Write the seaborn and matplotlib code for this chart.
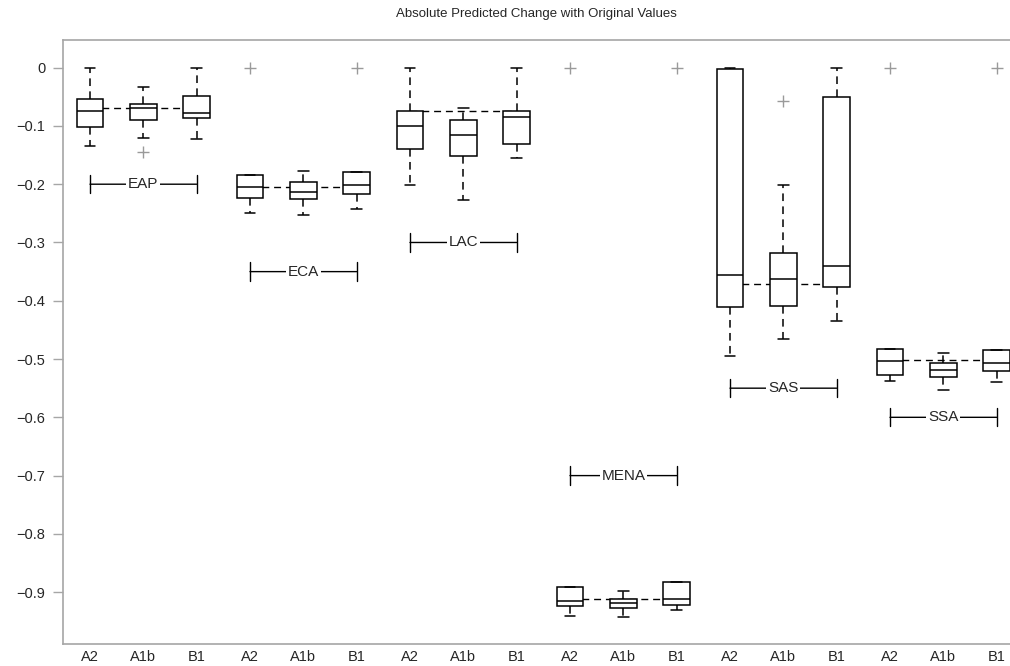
import matplotlib
matplotlib.use("Agg")
import matplotlib.pyplot as plt
import pandas as pd
import seaborn as sns

# --- Data ---
regions = ["EAP", "ECA", "LAC", "MENA", "SAS", "SSA"]
scenarios = ["A2", "A1b", "B1"]

# one value per box, order: region by region, A2 / A1b / B1
whisker_hi = [0.0, -0.033, 0.0,
              -0.184, -0.177, -0.179,
              0.0, -0.069, 0.0,
              -0.891, -0.898, -0.882,
              0.0, -0.202, 0.0,
              -0.483, -0.489, -0.485]
upper_q = [-0.054, -0.063, -0.048,
           -0.184, -0.197, -0.179,
           -0.075, -0.089, -0.074,
           -0.891, -0.911, -0.882,
           -0.003, -0.318, -0.050,
           -0.483, -0.506, -0.485]
median = [-0.074, -0.070, -0.077,
          -0.205, -0.213, -0.202,
          -0.100, -0.115, -0.084,
          -0.915, -0.919, -0.911,
          -0.356, -0.362, -0.340,
          -0.503, -0.519, -0.506]
lower_q = [-0.102, -0.090, -0.086,
           -0.223, -0.225, -0.217,
           -0.140, -0.151, -0.131,
           -0.924, -0.928, -0.922,
           -0.411, -0.409, -0.376,
           -0.527, -0.530, -0.520]
whisker_lo = [-0.134, -0.121, -0.123,
              -0.250, -0.252, -0.243,
              -0.202, -0.227, -0.155,
              -0.941, -0.942, -0.930,
              -0.494, -0.466, -0.434,
              -0.537, -0.553, -0.540]

# outliers: box index (0-based) and value
outlier_box = [1, 3, 5, 9, 11, 13, 15, 17]
outlier_val = [-0.144, 0.0, 0.0, 0.0, 0.0, -0.057, 0.0, 0.0]

# dashed level line per region and the y of the region bracket label
group_line = [-0.070, -0.204, -0.075, -0.911, -0.372, -0.502]
label_y = [-0.20, -0.35, -0.30, -0.70, -0.55, -0.60]

# --- Style ---
sns.set_theme(style="white")
plt.rcParams["font.family"] = ["Liberation Sans", "DejaVu Sans"]

spine_grey = "#a6a6a6"
dash = (0, (5, 3.5))

fig = plt.figure(figsize=(10.10, 6.66), dpi=100)
ax = fig.add_axes([0.0627, 0.033, 0.9373, 0.907])

n = len(median)
positions = list(range(1, n + 1))
stats = []
for i in range(n):
    stats.append({
        "whislo": whisker_lo[i], "q1": lower_q[i], "med": median[i],
        "q3": upper_q[i], "whishi": whisker_hi[i], "fliers": [],
    })

# dashed line joining the boxes of each region (sits behind the boxes)
line_rows = []
for g, region in enumerate(regions):
    for k in (0, 2):
        line_rows.append({"region": region, "x": g * 3 + 1 + k, "y": group_line[g]})
line_df = pd.DataFrame(line_rows)
for region, sub in line_df.groupby("region", sort=False):
    sns.lineplot(data=sub, x="x", y="y", ax=ax, color="black", lw=1.0,
                 linestyle=dash, zorder=1, legend=False)

ax.bxp(stats, positions=positions, widths=0.5, patch_artist=True,
       showfliers=False,
       boxprops=dict(facecolor="white", edgecolor="black", linewidth=1.1),
       medianprops=dict(color="black", linewidth=1.1),
       whiskerprops=dict(color="black", linewidth=1.1, linestyle=dash),
       capprops=dict(color="black", linewidth=1.1),
       capwidths=0.2, zorder=3)

# outliers
out_df = pd.DataFrame({"x": [b + 1 for b in outlier_box], "y": outlier_val})
sns.scatterplot(data=out_df, x="x", y="y", ax=ax, marker="+", s=70,
                color="#9a9a9a", linewidth=1.0, zorder=4, legend=False)

# region brackets
for g, region in enumerate(regions):
    x0 = g * 3 + 1
    x1 = g * 3 + 3
    ax.annotate("", xy=(x0, label_y[g]), xytext=(x1, label_y[g]),
                arrowprops=dict(arrowstyle="|-|,widthA=0.55,widthB=0.55",
                                color="black", lw=1.0, shrinkA=0, shrinkB=0),
                zorder=4)
    ax.text((x0 + x1) / 2, label_y[g], region, ha="center", va="center",
            fontsize=11, zorder=5,
            bbox=dict(facecolor="white", edgecolor="none", pad=1.2))

ax.set_xlim(0.5, 18.25)
ax.set_ylim(-0.989, 0.0475)
ax.set_xticks(positions)
ax.set_xticklabels(scenarios * len(regions), fontsize=10.5)
ax.set_yticks([0, -0.1, -0.2, -0.3, -0.4, -0.5, -0.6, -0.7, -0.8, -0.9])
ax.set_yticklabels(["0", "\u22120.1", "\u22120.2", "\u22120.3", "\u22120.4",
                    "\u22120.5", "\u22120.6", "\u22120.7", "\u22120.8", "\u22120.9"],
                   fontsize=10.5)
ax.set_xlabel("")
ax.set_ylabel("")
ax.tick_params(axis="y", length=7, width=1, color=spine_grey, pad=6, left=True)
ax.tick_params(axis="x", length=0, pad=4)

for side in ["left", "top", "bottom"]:
    ax.spines[side].set_color(spine_grey)
    ax.spines[side].set_linewidth(1.2)
ax.spines["right"].set_visible(False)

ax.set_title("Absolute Predicted Change with Original Values", fontsize=9.5, pad=16.8)

fig.savefig("out.png", dpi=100)
